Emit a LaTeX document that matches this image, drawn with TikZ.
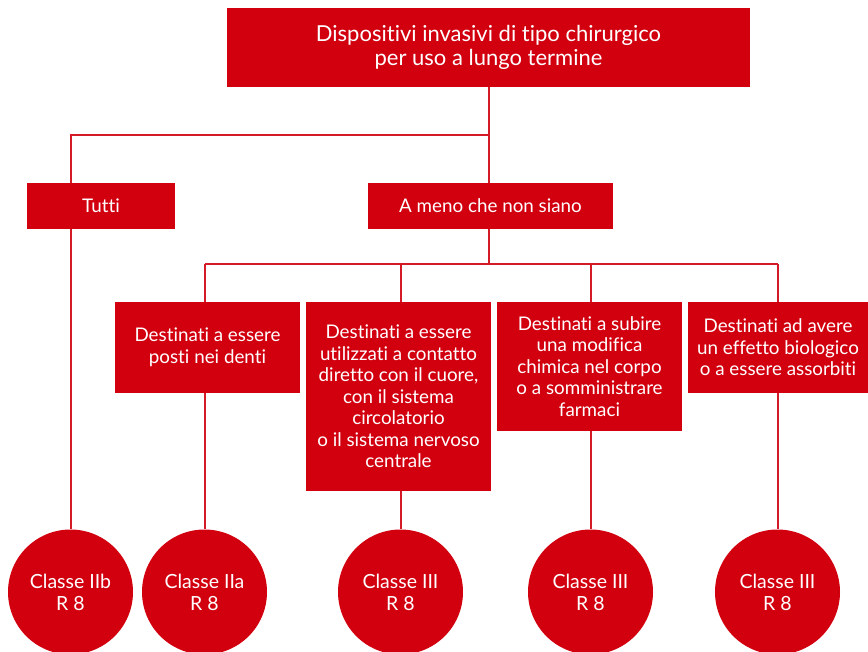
\documentclass[tikz,border=0pt]{standalone}
\usepackage{fontspec}
\setmainfont{Lato}[Ligatures=NoCommon]
\definecolor{boxred}{HTML}{D2000F}
\definecolor{linered}{HTML}{D41A26}
\begin{document}
\begin{tikzpicture}[x=1pt,y=-1pt,
  rbox/.style={fill=boxred,text=white,inner sep=0pt,align=center,font=\fontsize{18.8}{21.5}\selectfont},
  rcirc/.style={circle,fill=boxred,text=white,minimum size=125pt,inner sep=0pt,align=center,font=\fontsize{19.5}{22}\selectfont},
  conn/.style={draw=linered,line width=2pt}]
\clip (0,0) rectangle (868,652);
\useasboundingbox (0,0) rectangle (868,652);
\node[rbox,minimum width=523pt,minimum height=79pt,font=\fontsize{22}{24}\selectfont] (top) at (488.5,47.5) {Dispositivi invasivi di tipo chirurgico\\per uso a lungo termine};
\node[rbox,minimum width=148pt,minimum height=46pt] (tutti) at (101,206) {Tutti};
\node[rbox,minimum width=245pt,minimum height=46pt] (ameno) at (490.5,206) {A meno che non siano};
\node[rbox,minimum width=185pt,minimum height=91pt] (b1) at (207.5,347.5) {Destinati a essere\\posti nei denti};
\node[rbox,minimum width=185pt,minimum height=189pt] (b2) at (398.5,396.5) {Destinati a essere\\utilizzati a contatto\\diretto con il cuore,\\con il sistema\\circolatorio\\o il sistema nervoso\\centrale};
\node[rbox,minimum width=185pt,minimum height=129pt] (b3) at (589.5,366.5) {Destinati a subire\\una modifica\\chimica nel corpo\\o a somministrare\\farmaci};
\node[rbox,minimum width=180pt,minimum height=91pt] (b4) at (778,347.5) {Destinati ad avere\\un effetto biologico\\o a essere assorbiti};
\node[rcirc] (c1) at (70.5,592) {Classe IIb\\R 8};
\node[rcirc] (c2) at (204.5,592) {Classe IIa\\R 8};
\node[rcirc] (c3) at (400.5,592) {Classe III\\R 8};
\node[rcirc] (c4) at (590.5,592) {Classe III\\R 8};
\node[rcirc] (c5) at (777.5,592) {Classe III\\R 8};
\coordinate (j1) at (489,135);
\coordinate (j2) at (489,264);
\draw[conn] (top.south -| j1) -- (ameno.north -| j1);
\draw[conn] (j1) -| (tutti.north -| c1);
\draw[conn] (tutti.south -| c1) -- (c1.north);
\draw[conn] (ameno.south -| j2) -- (j2);
\draw[conn] (j2 -| c2) -- (j2 -| c5);
\draw[conn] (j2 -| c2) -- (b1.north -| c2);
\draw[conn] (j2 -| c3) -- (b2.north -| c3);
\draw[conn] (j2 -| c4) -- (b3.north -| c4);
\draw[conn] (j2 -| c5) -- (b4.north -| c5);
\draw[conn] (b1.south -| c2) -- (c2.north);
\draw[conn] (b2.south -| c3) -- (c3.north);
\draw[conn] (b3.south -| c4) -- (c4.north);
\draw[conn] (b4.south -| c5) -- (c5.north);
\end{tikzpicture}
\end{document}
